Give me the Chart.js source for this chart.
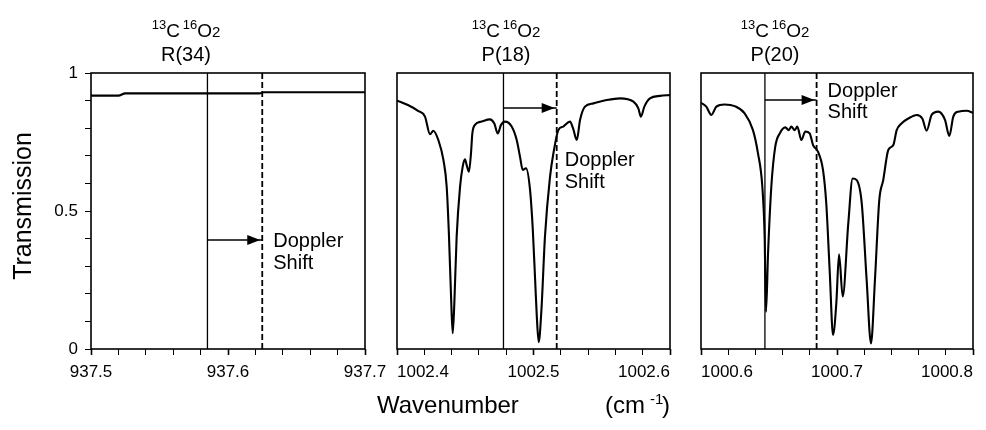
<!DOCTYPE html>
<html>
<head>
<meta charset="utf-8">
<script src="https://cdn.jsdelivr.net/npm/chart.js@4.4.1/dist/chart.umd.min.js"></script>
<style>
  html, body { margin: 0; padding: 0; background: #fff; }
  #wrap { position: relative; width: 986px; height: 430px; overflow: hidden; }
  #wrap canvas { position: absolute; top: 0; }
</style>
</head>
<body>
<div id="wrap">
  <canvas id="c1"></canvas>
  <canvas id="c2"></canvas>
  <canvas id="c3"></canvas>
</div>
<script>
const FONT = '"Liberation Sans", Arial, Helvetica, sans-serif';

// wavenumber windows (cm-1) and the laser lines
const xMins = [937.5, 1002.4, 1000.6];
const xMaxs = [937.7, 1002.6, 1000.8];
const transitions = ["R(34)", "P(18)", "P(20)"];
const lineCentres = [937.585, 1002.478, 1000.647];
const shiftedCentres = [937.625, 1002.517, 1000.685];
const arrowLevels = [0.395, 0.873, 0.902];
const yTickLabels = [0, 0.5, 1];

// R(34) window - nearly flat
const p1Wave = [937.5, 937.52, 937.525, 937.6, 937.623, 937.626, 937.7];
const p1Trans = [0.918, 0.918, 0.926, 0.926, 0.926, 0.930, 0.930];

// P(18) window
const p2Wave = [1002.400, 1002.408, 1002.4154, 1002.4205, 1002.4242, 1002.4266, 1002.4303, 1002.434,
  1002.4364, 1002.4381, 1002.4396, 1002.4408, 1002.442, 1002.4437, 1002.4462, 1002.4481, 1002.4498,
  1002.451, 1002.4527, 1002.4542, 1002.4552, 1002.4571, 1002.462, 1002.4681, 1002.4713, 1002.4738,
  1002.4762, 1002.4791, 1002.484, 1002.4877, 1002.4901, 1002.4921, 1002.4945, 1002.4974, 1002.4995,
  1002.5012, 1002.5024, 1002.5038, 1002.5058, 1002.5084, 1002.5121, 1002.515, 1002.5182, 1002.5218,
  1002.5267, 1002.529, 1002.5317, 1002.5341, 1002.5377, 1002.5439, 1002.5537, 1002.5634, 1002.5732,
  1002.5768, 1002.5787, 1002.5812, 1002.5853, 1002.5927, 1002.600];
const p2Trans = [0.900, 0.884, 0.863, 0.842, 0.778, 0.791, 0.757, 0.685,
  0.588, 0.407, 0.190, 0.057, 0.166, 0.407, 0.588, 0.660, 0.687,
  0.667, 0.642, 0.709, 0.781, 0.812, 0.824, 0.832, 0.817, 0.781,
  0.812, 0.824, 0.806, 0.757, 0.697, 0.649, 0.655, 0.580, 0.431,
  0.250, 0.120, 0.025, 0.141, 0.407, 0.624, 0.721, 0.793, 0.806,
  0.824, 0.799, 0.757, 0.830, 0.878, 0.890, 0.902, 0.908, 0.896,
  0.872, 0.842, 0.878, 0.908, 0.917, 0.920];

// P(20) window
const p3Wave = [1000.600, 1000.6039, 1000.6076, 1000.6113, 1000.6174, 1000.6248, 1000.6321, 1000.6382,
  1000.6419, 1000.6451, 1000.6468, 1000.6478, 1000.6493, 1000.6517, 1000.6546, 1000.6579, 1000.662,
  1000.6645, 1000.6664, 1000.6689, 1000.6708, 1000.6738, 1000.6767, 1000.6799, 1000.6824, 1000.686,
  1000.6897, 1000.6921, 1000.6946, 1000.6971, 1000.6995, 1000.7015, 1000.7042, 1000.7083, 1000.7115,
  1000.7145, 1000.7182, 1000.7218, 1000.725, 1000.7279, 1000.7311, 1000.734, 1000.7377, 1000.7414,
  1000.7439, 1000.7476, 1000.7524, 1000.7586, 1000.7627, 1000.7659, 1000.7696, 1000.7745, 1000.7794,
  1000.7826, 1000.7855, 1000.7892, 1000.7954, 1000.800];
const p3Trans = [0.892, 0.878, 0.848, 0.878, 0.886, 0.880, 0.854, 0.793,
  0.709, 0.588, 0.407, 0.135, 0.347, 0.588, 0.733, 0.781, 0.803,
  0.793, 0.806, 0.793, 0.806, 0.757, 0.788, 0.781, 0.739, 0.715,
  0.649, 0.528, 0.286, 0.051, 0.166, 0.343, 0.190, 0.455, 0.618,
  0.612, 0.528, 0.250, 0.020, 0.250, 0.540, 0.612, 0.721, 0.739,
  0.793, 0.818, 0.835, 0.848, 0.835, 0.791, 0.848, 0.860, 0.830,
  0.772, 0.842, 0.860, 0.863, 0.856];

const waves = [p1Wave, p2Wave, p3Wave];
const transes = [p1Trans, p2Trans, p3Trans];

// canvas placement, pixels on the page
const frames = [
  { left: 0, width: 395, padL: 0, padR: 30, yAxis: true, tickAlign: "center", titleX: 186, textDx: 11, textBase: [247, 269] },
  { left: 365, width: 335, padL: 32, padR: 30, yAxis: false, tickAlign: "inner", titleX: 506, textDx: 8, textBase: [166, 188] },
  { left: 672, width: 314, padL: 29, padR: 13, yAxis: false, tickAlign: "inner", titleX: 775, textDx: 11, textBase: [97, 118] }
];

function richText(ctx, parts, x, base, centre) {
  let w = 0;
  parts.forEach(p => { ctx.font = p.s + "px " + FONT; w += ctx.measureText(p.t).width; });
  let cx = centre ? x - w / 2 : x;
  parts.forEach(p => {
    ctx.font = p.s + "px " + FONT;
    ctx.fillText(p.t, cx, base + (p.dy || 0));
    cx += ctx.measureText(p.t).width;
  });
}

const deco = {
  id: "deco",
  afterDatasetsDraw(chart, args, o) {
    const { ctx, chartArea: a, scales } = chart;
    ctx.save();
    ctx.strokeStyle = "#000";
    ctx.fillStyle = "#000";
    ctx.lineWidth = 1.6;
    ctx.strokeRect(a.left, a.top, a.right - a.left, a.bottom - a.top);

    chart.data.datasets.forEach(ds => {
      if (!ds.arrow) return;
      const end = ds.data[ds.data.length - 1];
      const px = scales.x.getPixelForValue(end.x) - 2;
      const py = scales.y.getPixelForValue(end.y);
      ctx.beginPath();
      ctx.moveTo(px, py);
      ctx.lineTo(px - 13, py - 5);
      ctx.lineTo(px - 13, py + 5);
      ctx.closePath();
      ctx.fill();
    });

    ctx.textBaseline = "alphabetic";
    ctx.textAlign = "left";
    richText(ctx, [
      { t: "13", s: 13, dy: -8 }, { t: "C", s: 19 }, { t: " ", s: 10 },
      { t: "16", s: 13, dy: -8 }, { t: "O", s: 19 }, { t: "2", s: 15 }
    ], o.titleX, 37, true);
    richText(ctx, [{ t: o.transition, s: 20 }], o.titleX, 61, true);

    const tx = scales.x.getPixelForValue(o.shifted) + o.textDx;
    ctx.font = "20px " + FONT;
    ctx.fillText("Doppler", tx, o.textBase[0]);
    ctx.fillText("Shift", tx, o.textBase[1]);

    if (o.yTitle) {
      ctx.save();
      ctx.translate(31, 206);
      ctx.rotate(-Math.PI / 2);
      ctx.textAlign = "center";
      ctx.font = "25px " + FONT;
      ctx.fillText("Transmission", 0, 0);
      ctx.restore();
    }
    if (o.xTitle) {
      const off = chart.canvas.offsetLeft;
      ctx.font = "24px " + FONT;
      ctx.fillText("Wavenumber", 377 - off, 413);
      ctx.fillText("(cm", 605 - off, 413);
      ctx.font = "15px " + FONT;
      ctx.fillText("-1", 650 - off, 404);
      ctx.font = "24px " + FONT;
      ctx.fillText(")", 662 - off, 413);
    }
    ctx.restore();
  }
};

function isTenth(v) {
  return Math.abs(v * 10 - Math.round(v * 10)) < 1e-6;
}

function makePanel(i) {
  const f = frames[i];
  const canvas = document.getElementById("c" + (i + 1));
  canvas.width = f.width;
  canvas.height = 430;
  canvas.style.left = f.left + "px";

  const spectrum = waves[i].map((w, k) => ({ x: w, y: transes[i][k] }));

  return new Chart(canvas, {
    type: "line",
    data: {
      datasets: [
        { data: spectrum, borderColor: "#000", borderWidth: 2.1, pointRadius: 0, cubicInterpolationMode: "monotone" },
        { data: [{ x: lineCentres[i], y: 0 }, { x: lineCentres[i], y: 1 }], borderColor: "#000", borderWidth: 1.3, pointRadius: 0 },
        { data: [{ x: shiftedCentres[i], y: 0 }, { x: shiftedCentres[i], y: 1 }], borderColor: "#000", borderWidth: 1.8, borderDash: [6, 3], pointRadius: 0 },
        { data: [{ x: lineCentres[i], y: arrowLevels[i] }, { x: shiftedCentres[i], y: arrowLevels[i] }], borderColor: "#000", borderWidth: 1.6, pointRadius: 0, arrow: true }
      ]
    },
    plugins: [deco],
    options: {
      responsive: false,
      animation: false,
      devicePixelRatio: 1,
      layout: { padding: { left: f.padL, right: f.padR, top: 73, bottom: 0 } },
      plugins: {
        legend: { display: false },
        tooltip: { enabled: false },
        deco: {
          titleX: f.titleX - f.left,
          transition: transitions[i],
          shifted: shiftedCentres[i],
          textDx: f.textDx,
          textBase: f.textBase,
          yTitle: i === 0,
          xTitle: i === 1
        }
      },
      scales: {
        x: {
          type: "linear",
          min: xMins[i],
          max: xMaxs[i],
          afterFit(s) { s.height = 81; s.paddingLeft = 0; s.paddingRight = 0; },
          border: { display: false },
          grid: {
            drawOnChartArea: false,
            tickLength: 6,
            tickColor: "#000",
            tickWidth: c => (c.tick && isTenth(c.tick.value) ? 1.6 : 1)
          },
          ticks: {
            stepSize: 0.02,
            autoSkip: false,
            maxRotation: 0,
            align: f.tickAlign,
            padding: 7,
            color: "#000",
            font: { family: FONT, size: 17 },
            callback: v => (isTenth(v) ? (Math.round(v * 10) / 10).toFixed(1) : "")
          }
        },
        y: {
          min: 0,
          max: 1,
          display: f.yAxis,
          afterFit(s) { s.width = f.yAxis ? 91 : 0; s.paddingTop = 0; s.paddingBottom = 0; },
          border: { display: false },
          grid: { drawOnChartArea: false, tickLength: 6, tickColor: "#000", tickWidth: 1 },
          ticks: {
            stepSize: 0.1,
            autoSkip: false,
            padding: 7,
            color: "#000",
            font: { family: FONT, size: 17 },
            callback: v => (yTickLabels.some(t => Math.abs(t - v) < 1e-6) ? String(Math.round(v * 10) / 10) : "")
          }
        }
      }
    }
  });
}

[0, 1, 2].forEach(makePanel);
</script>
</body>
</html>
